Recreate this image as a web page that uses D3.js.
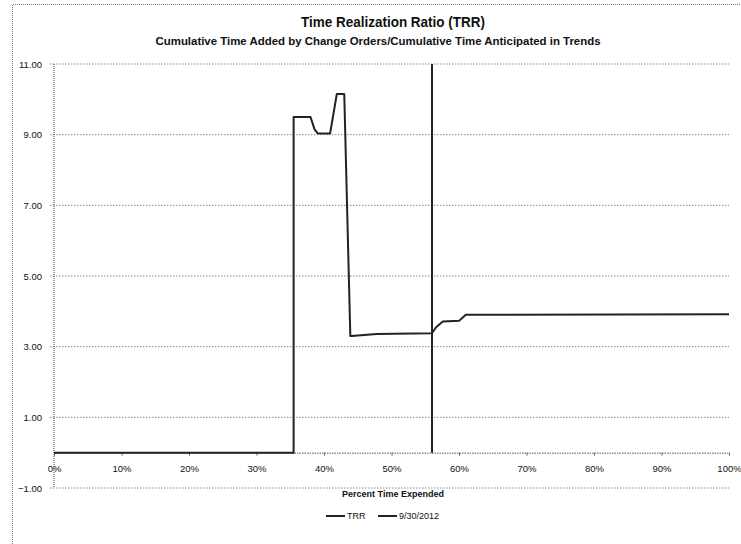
<!DOCTYPE html>
<html>
<head>
<meta charset="utf-8">
<script src="https://cdn.jsdelivr.net/npm/d3@7"></script>
<style>
  body { margin: 0; background: #fff; }
  text { font-family: "Liberation Sans", Arial, sans-serif; fill: #111; }
</style>
</head>
<body>
<div id="chart"></div>
<script>
// TRR series (percent time expended, ratio)
var trrPct = [0, 35.5, 35.5, 38.0, 38.6, 39.1, 40.9, 41.9, 43.0, 43.9, 44.1, 47.8, 56.0, 56.6, 57.6, 60.0, 61.0, 100];
var trrVal = [0, 0, 9.5, 9.5, 9.15, 9.03, 9.03, 10.15, 10.15, 3.30, 3.30, 3.36, 3.38, 3.55, 3.71, 3.73, 3.90, 3.92];

// 9/30/2012 marker line
var markPct = [56, 56];
var markVal = [0, 11];

var yTicks = [11, 9, 7, 5, 3, 1, -1];
var xTicks = [0, 10, 20, 30, 40, 50, 60, 70, 80, 90, 100];
var seriesNames = ["TRR", "9/30/2012"];

function init() {
    var w = 741, h = 544;
    var svg = d3.select("#chart").append("svg")
        .attr("width", w)
        .attr("height", h);

    // outer chart border (scan only shows top and left edges)
    svg.append("path")
        .attr("d", "M12.5," + h + "V4.5H" + w)
        .attr("fill", "none")
        .attr("stroke", "#777")
        .attr("stroke-dasharray", "1,1");

    var x = d3.scaleLinear().domain([0, 100]).range([54, 729]);
    var y = d3.scaleLinear().domain([-1, 11]).range([488, 64]);

    // titles
    svg.append("text")
        .attr("x", 393).attr("y", 27)
        .attr("text-anchor", "middle")
        .attr("font-size", 14).attr("font-weight", "bold")
        .attr("textLength", 184).attr("lengthAdjust", "spacingAndGlyphs")
        .text("Time Realization Ratio (TRR)");
    svg.append("text")
        .attr("x", 378).attr("y", 45)
        .attr("text-anchor", "middle")
        .attr("font-size", 10.5).attr("font-weight", "bold")
        .attr("textLength", 445).attr("lengthAdjust", "spacingAndGlyphs")
        .text("Cumulative Time Added by Change Orders/Cumulative Time Anticipated in Trends");

    // gridlines
    svg.append("g").selectAll("line")
        .data(yTicks)
        .enter().append("line")
        .attr("x1", x(0) - 4).attr("x2", x(100))
        .attr("y1", d => y(d)).attr("y2", d => y(d))
        .attr("stroke", "#888")
        .attr("stroke-dasharray", "1.5,1.5");

    // y labels
    svg.append("g").selectAll("text")
        .data(yTicks)
        .enter().append("text")
        .attr("x", 42).attr("y", d => y(d) + 3.5)
        .attr("text-anchor", "end")
        .attr("font-size", 9.5)
        .text(d => d3.format(".2f")(d));

    // y axis line
    svg.append("line")
        .attr("x1", x(0)).attr("x2", x(0))
        .attr("y1", y(11)).attr("y2", y(-1))
        .attr("stroke", "#444")
        .attr("stroke-dasharray", "1,1");

    // x axis at zero
    var xAxis = d3.axisBottom(x)
        .tickValues(xTicks)
        .tickSize(3)
        .tickFormat(d => d + "%");
    var gx = svg.append("g")
        .attr("transform", "translate(0," + y(0) + ")")
        .call(xAxis);
    gx.select(".domain")
        .attr("stroke", "#555")
        .attr("stroke-dasharray", "1.5,1");
    gx.selectAll(".tick line").attr("stroke", "#666");
    gx.selectAll(".tick text")
        .attr("y", 13)
        .attr("font-size", 9.5)
        .attr("font-family", "Liberation Sans, Arial, sans-serif")
        .attr("fill", "#111");

    svg.append("text")
        .attr("x", 393).attr("y", 497)
        .attr("text-anchor", "middle")
        .attr("font-size", 9).attr("font-weight", "bold")
        .text("Percent Time Expended");

    var line = d3.line()
        .x(d => x(d[0]))
        .y(d => y(d[1]));

    var trrData = trrPct.map((p, i) => [p, trrVal[i]]);
    var markData = markPct.map((p, i) => [p, markVal[i]]);

    svg.append("path")
        .datum(markData)
        .attr("d", line)
        .attr("fill", "none")
        .attr("stroke", "#222")
        .attr("stroke-width", 2);

    svg.append("path")
        .datum(trrData)
        .attr("d", line)
        .attr("fill", "none")
        .attr("stroke", "#222")
        .attr("stroke-width", 2)
        .attr("stroke-linejoin", "round");

    // legend
    var legX = [326, 378];
    var leg = svg.append("g").selectAll("g")
        .data(seriesNames)
        .enter().append("g")
        .attr("transform", (d, i) => "translate(" + legX[i] + "," + 516 + ")");
    leg.append("line")
        .attr("x1", 0).attr("x2", 19)
        .attr("stroke", "#222").attr("stroke-width", 2);
    leg.append("text")
        .attr("x", 21).attr("y", 3)
        .attr("font-size", 9)
        .text(d => d);
}

window.onload = init;
</script>
</body>
</html>
